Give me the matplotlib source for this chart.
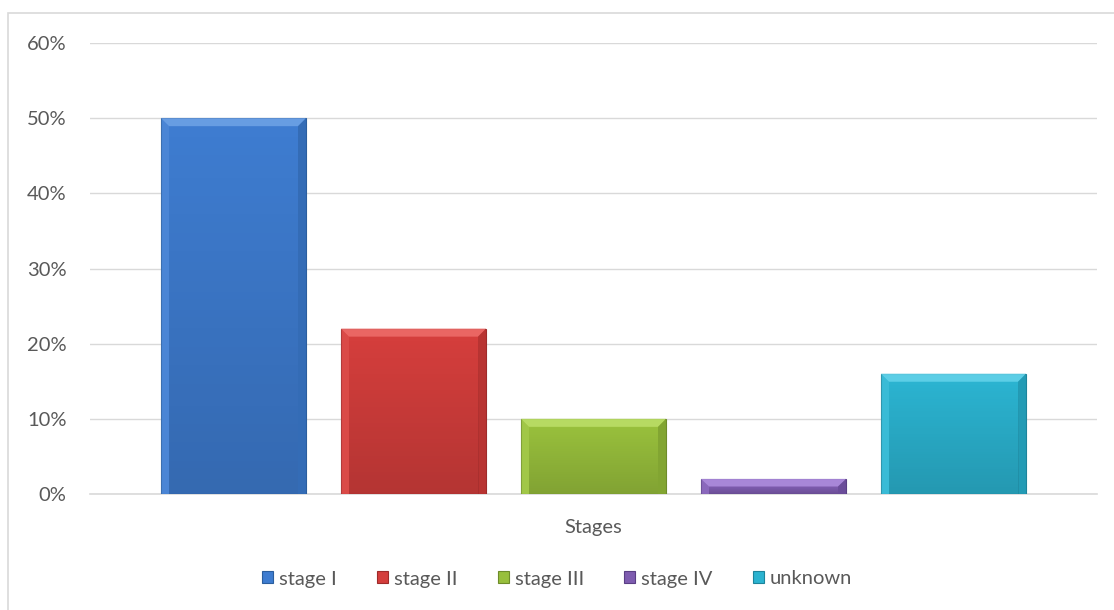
import matplotlib
matplotlib.use("Agg")
import matplotlib.pyplot as plt
from matplotlib.patches import Rectangle, Polygon
from matplotlib.ticker import PercentFormatter
import numpy as np

categories = ["stage I", "stage II", "stage III", "stage IV", "unknown"]
values = [50, 22, 10, 2, 16]
colors = ["#3E7CD0", "#D43E3C", "#98BF3C", "#7E5CB0", "#2BB3D0"]
light = ["#6FA3E6", "#EE6E6B", "#BDE069", "#B08FE0", "#65D3EA"]
dark = ["#2B5E9E", "#9E2B2A", "#6E8C2A", "#5A3F85", "#1D849B"]
yticks = [0, 10, 20, 30, 40, 50, 60]

plt.rcParams['font.family'] = ['Lato', 'DejaVu Sans']

fig = plt.figure(figsize=(11.14, 6.10), dpi=100)
W, H = 1114, 610
ax = fig.add_axes([90 / W, 1 - 494 / H, (1097 - 90) / W, (494 - 43) / H])

n = len(values)
bw = 145 / (1097 - 90)
gap = 35 / (1097 - 90)
span = n * bw + (n - 1) * gap
start = 0.5 - span / 2
xs = [start + i * (bw + gap) + bw / 2 for i in range(n)]

bars = ax.bar(xs, values, width=bw, color=colors, edgecolor=dark, linewidth=0.8, zorder=3)
ax.set_xlim(0, 1)
ax.set_ylim(0, 60)
ax.set_yticks(yticks)
ax.yaxis.set_major_formatter(PercentFormatter(decimals=0))
ax.set_xticks([0.5])
ax.set_xticklabels(["Stages"])
ax.tick_params(axis='both', length=0, labelsize=14.5, labelcolor="#595959")
ax.tick_params(axis='x', pad=18)
ax.tick_params(axis='y', pad=17)
ax.grid(axis='y', color="#D9D9D9", linewidth=1, zorder=0)
for s in ["top", "right", "left"]:
    ax.spines[s].set_visible(False)
ax.spines["bottom"].set_color("#D9D9D9")
ax.spines["bottom"].set_linewidth(1.2)

px_x = 1.0 / (1097 - 90)
px_y = 60.0 / (494 - 43)
for b, lc, dc in zip(bars, light, dark):
    x0, y0 = b.get_x(), b.get_y()
    w, h = b.get_width(), b.get_height()
    bx = min(8 * px_x, w / 4)
    by = min(8 * px_y, h / 2)
    top = Polygon([[x0, y0 + h], [x0 + w, y0 + h], [x0 + w - bx, y0 + h - by], [x0 + bx, y0 + h - by]],
                  closed=True, facecolor=lc, edgecolor='none', zorder=4, alpha=0.85)
    left = Polygon([[x0, y0], [x0, y0 + h], [x0 + bx, y0 + h - by], [x0 + bx, y0]],
                   closed=True, facecolor=lc, edgecolor='none', zorder=4, alpha=0.25)
    right = Polygon([[x0 + w, y0], [x0 + w, y0 + h], [x0 + w - bx, y0 + h - by], [x0 + w - bx, y0]],
                    closed=True, facecolor=dc, edgecolor='none', zorder=4, alpha=0.5)
    ax.add_patch(top)
    ax.add_patch(left)
    ax.add_patch(right)
    grad = np.linspace(0, 1, 100).reshape(-1, 1)
    ax.imshow(grad, extent=(x0 + bx, x0 + w - bx, y0, y0 + h - by), aspect='auto',
              cmap=matplotlib.colors.LinearSegmentedColormap.from_list(
                  "g", [(0, 0, 0, 0.15), (0, 0, 0, 0.0)]), origin='lower', zorder=3.5)

handles = [Rectangle((0, 0), 1, 1, facecolor=c, edgecolor=d, linewidth=0.8) for c, d in zip(colors, dark)]
leg = fig.legend(handles, categories, loc='center', bbox_to_anchor=(0.5, 1 - 579 / H), ncol=n,
                 frameon=False, fontsize=14.5, handlelength=0.55, handleheight=0.55,
                 handletextpad=0.3, columnspacing=2.0)
for t in leg.get_texts():
    t.set_color("#595959")

fig.patches.append(Rectangle((8 / W, -0.05), 1.1, 1 - 13 / H + 0.05, transform=fig.transFigure,
                             facecolor='none', edgecolor="#D9D9D9", linewidth=1.2, zorder=0))

fig.savefig("out.png", dpi=100)
